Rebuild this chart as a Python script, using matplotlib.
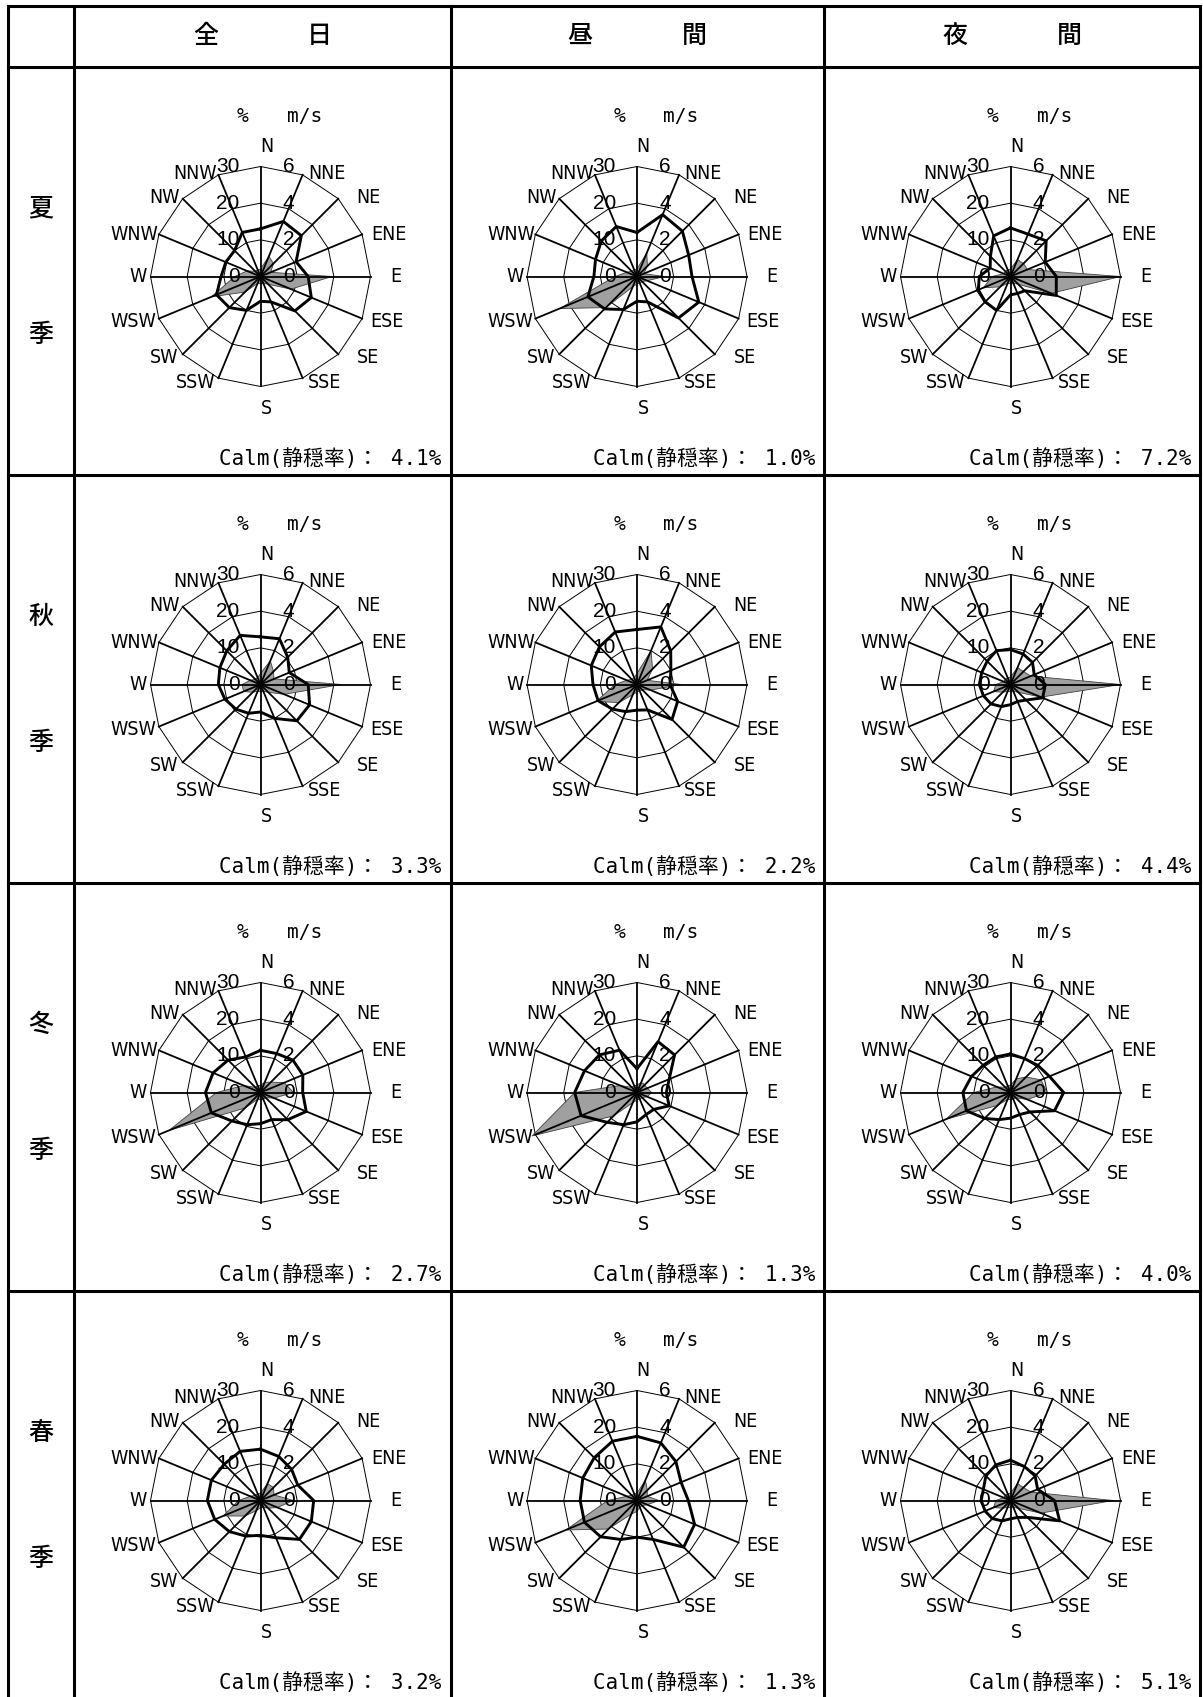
import numpy as np
import matplotlib
matplotlib.use("Agg")
import matplotlib.pyplot as plt
from matplotlib import font_manager

plt.rcParams['font.family'] = ['Noto Sans CJK JP', 'DejaVu Sans']

directions = ['N', 'NNE', 'NE', 'ENE', 'E', 'ESE', 'SE', 'SSE',
              'S', 'SSW', 'SW', 'WSW', 'W', 'WNW', 'NW', 'NNW']
seasons = ['夏季', '秋季', '冬季', '春季']
periods = [('全', '日'), ('昼', '間'), ('夜', '間')]

# 出現頻度 (%)  方位順: N, NNE, ... NNW
freq_summer_all   = [2, 6, 5, 3, 19.5, 9, 3, 2, 2, 2, 6, 14.5, 7, 4, 2, 2]
freq_summer_day   = [2, 7, 4, 2, 7.5, 3, 2, 2, 2, 3, 12, 22.8, 6, 3, 2, 2]
freq_summer_night = [2, 5, 5, 5, 30, 12, 3, 2, 2, 2, 4, 8, 5, 2, 2, 2]
freq_autumn_all   = [3, 7, 5, 4, 22, 7, 3, 2, 2, 2, 3, 5, 5, 3, 2, 2]
freq_autumn_day   = [3, 10, 6, 3, 12, 4, 2, 2, 2, 3, 7, 12, 6, 3, 2, 2]
freq_autumn_night = [2, 5, 5, 6, 30, 9, 3, 2, 2, 2, 3, 5, 4, 2, 2, 2]
freq_winter_all   = [2, 3, 4, 7, 9, 4, 2, 2, 2, 2, 6, 27, 12, 5, 2, 2]
freq_winter_day   = [2, 3, 3, 3, 4, 3, 2, 2, 2, 3, 9, 31, 17, 5, 2, 2]
freq_winter_night = [2, 4, 6, 9, 10, 5, 2, 2, 2, 2, 5, 19, 10, 4, 2, 2]
freq_spring_all   = [2, 5, 5, 4, 9, 5, 3, 2, 2, 3, 6, 11, 6, 3, 2, 2]
freq_spring_day   = [2, 6, 4, 3, 6, 3, 2, 2, 3, 4, 11, 21, 8, 3, 2, 2]
freq_spring_night = [2, 5, 5, 6, 28, 9, 3, 2, 2, 2, 3, 5, 4, 2, 2, 2]

# 平均風速 (m/s)
speed_summer_all   = [2.6, 3.25, 3.15, 2.1, 2.6, 3.0, 2.65, 1.5, 1.35, 2.0, 2.4, 2.6, 2.15, 2.05, 2.0, 2.6]
speed_summer_day   = [2.4, 3.65, 3.5, 3.05, 3.0, 3.65, 3.2, 1.5, 1.35, 1.95, 2.5, 2.9, 2.35, 2.45, 2.75, 2.95]
speed_summer_night = [2.65, 2.5, 2.75, 2.05, 2.5, 2.7, 1.1, 1.0, 1.0, 2.0, 1.95, 1.9, 1.7, 1.2, 1.55, 2.4]
speed_autumn_all   = [2.6, 2.7, 2.1, 1.7, 2.6, 2.9, 2.8, 2.0, 1.5, 1.7, 1.9, 2.1, 2.3, 2.4, 2.6, 2.9]
speed_autumn_day   = [3.0, 3.4, 2.6, 2.0, 1.8, 2.4, 2.7, 1.5, 1.4, 1.6, 1.9, 2.3, 2.4, 2.7, 2.9, 3.1]
speed_autumn_night = [1.9, 1.8, 1.7, 1.4, 1.9, 1.9, 1.2, 1.0, 1.1, 1.3, 1.5, 1.6, 1.7, 1.7, 1.8, 2.0]
speed_winter_all   = [2.3, 2.3, 2.5, 2.5, 2.3, 2.7, 2.1, 1.6, 1.7, 1.9, 2.2, 2.9, 3.0, 2.8, 2.5, 2.1]
speed_winter_day   = [1.3, 3.0, 2.9, 1.9, 1.6, 1.9, 1.3, 1.3, 1.6, 1.9, 2.3, 3.3, 3.4, 3.1, 2.9, 2.5]
speed_winter_night = [2.1, 2.0, 2.1, 2.3, 2.9, 2.6, 1.5, 1.3, 1.4, 1.6, 2.0, 2.6, 2.6, 2.3, 2.1, 2.1]
speed_spring_all   = [2.8, 2.6, 2.4, 2.2, 2.9, 3.0, 3.0, 2.2, 1.9, 2.1, 2.4, 2.7, 2.9, 2.9, 2.8, 2.9]
speed_spring_day   = [3.5, 3.4, 3.0, 2.6, 2.8, 3.4, 3.6, 2.3, 2.0, 2.3, 2.8, 3.1, 3.1, 3.2, 3.3, 3.5]
speed_spring_night = [2.2, 2.0, 1.9, 1.6, 2.4, 2.9, 1.3, 1.0, 1.0, 1.2, 1.4, 1.5, 1.6, 1.6, 1.9, 2.1]

calm = [[4.1, 1.0, 7.2],
        [3.3, 2.2, 4.4],
        [2.7, 1.3, 4.0],
        [3.2, 1.3, 5.1]]

freq = [[freq_summer_all, freq_summer_day, freq_summer_night],
        [freq_autumn_all, freq_autumn_day, freq_autumn_night],
        [freq_winter_all, freq_winter_day, freq_winter_night],
        [freq_spring_all, freq_spring_day, freq_spring_night]]
speed = [[speed_summer_all, speed_summer_day, speed_summer_night],
         [speed_autumn_all, speed_autumn_day, speed_autumn_night],
         [speed_winter_all, speed_winter_day, speed_winter_night],
         [speed_spring_all, speed_spring_day, speed_spring_night]]

W, H = 1203, 1697
fig = plt.figure(figsize=(W / 100, H / 100), dpi=100)
bg = fig.add_axes([0, 0, 1, 1])
bg.set_xlim(0, W)
bg.set_ylim(H, 0)
bg.axis('off')

col_x = [8, 74, 450.5, 824, 1200]
row_y = [5.5, 66.5, 474.5, 882.5, 1290.5, 1698.5]
lw_frame = 2.2

for x in col_x:
    bg.plot([x, x], [row_y[0], H + 5], color='k', lw=lw_frame, solid_capstyle='projecting')
for y in row_y[:-1]:
    bg.plot([col_x[0], col_x[-1]], [y, y], color='k', lw=lw_frame, solid_capstyle='projecting')

# 見出し
for j, (a, b) in enumerate(periods):
    xc = (col_x[j + 1] + col_x[j + 2]) / 2
    bg.text(xc - 57, 36, a, fontsize=18, ha='center', va='center', weight='medium')
    bg.text(xc + 57, 36, b, fontsize=18, ha='center', va='center', weight='medium')
for i, s in enumerate(seasons):
    yc = (row_y[i + 1] + row_y[i + 2]) / 2
    xc = (col_x[0] + col_x[1]) / 2
    bg.text(xc, yc - 62, s[0], fontsize=18, ha='center', va='center', weight='medium')
    bg.text(xc, yc + 65, s[1], fontsize=18, ha='center', va='center', weight='medium')

theta = np.deg2rad(np.arange(16) * 22.5)
closed = np.append(theta, theta[0])

# 方位ラベルの位置 (中心からのピクセル)
label_off = [(6, -130), (66, -103), (108, -79), (128, -42), (135, 0), (126, 45),
             (108, 81), (64, 106), (6, 132), (-65, 106), (-96, 81), (-127, 45),
             (-122, 0), (-126, -42), (-96, -79), (-65, -103)]

# 方位ラベルは細めの字体
narrow = font_manager.FontProperties(family=['Liberation Sans Narrow', 'DejaVu Sans'],
                                     stretch='condensed', size=14)
digits = font_manager.FontProperties(family=['Liberation Sans', 'DejaVu Sans'], size=15)
mono = ['DejaVu Sans Mono', 'Noto Sans CJK JP']
R = 110  # 外枠の半径 (px)


def rose(cx, cy, f, v):
    rect = [(cx - R) / W, 1 - (cy + R) / H, 2 * R / W, 2 * R / H]
    ax = fig.add_axes(rect, projection='polar')
    ax.set_theta_zero_location('N')
    ax.set_theta_direction(-1)
    ax.set_ylim(0, 30)
    ax.axis('off')
    for r in (10, 20, 30):
        ax.plot(closed, [r] * 17, color='k', lw=0.7, clip_on=False, zorder=1)
    for t in theta:
        ax.plot([t, t], [0, 30], color='k', lw=1.3, clip_on=False, zorder=3)
    ax.fill(closed, np.append(f, f[0]), facecolor='#a0a0a0', edgecolor='#404040',
            lw=0.6, zorder=2, clip_on=False)
    for val in (0, 10, 20, 30):
        ax.annotate(str(val), xy=(0, val), xytext=(-21, 0), textcoords='offset pixels',
                    ha='right', va='center', fontproperties=digits, zorder=5)
    for name, (dx, dy) in zip(directions, label_off):
        ax.annotate(name, xy=(0, 0), xytext=(dx, -dy), textcoords='offset pixels',
                    ha='center', va='center', fontproperties=narrow)
    ax.annotate('%', xy=(0, 0), xytext=(-18, 160), textcoords='offset pixels',
                ha='center', va='center', fontsize=14, family=mono)
    ax.annotate('m/s', xy=(0, 0), xytext=(44, 160), textcoords='offset pixels',
                ha='center', va='center', fontsize=14, family=mono)

    ax2 = fig.add_axes(rect, projection='polar')
    ax2.set_theta_zero_location('N')
    ax2.set_theta_direction(-1)
    ax2.set_ylim(0, 6)
    ax2.axis('off')
    ax2.plot(closed, np.append(v, v[0]), color='k', lw=2.1, zorder=4, clip_on=False)
    for val in (0, 2, 4, 6):
        ax2.annotate(str(val), xy=(0, val), xytext=(28, 0), textcoords='offset pixels',
                     ha='center', va='center', fontproperties=digits, zorder=5)


for i in range(4):
    for j in range(3):
        cx = col_x[j + 1] + 186.5
        cy = row_y[i + 1] + 210
        rose(cx, cy, freq[i][j], speed[i][j])
        bg.text(col_x[j + 2] - 9, row_y[i + 2] - 16, f'Calm(静穏率)： {calm[i][j]:.1f}%',
                ha='right', va='center', fontsize=15, family=mono)

fig.savefig('out.png', dpi=100)
